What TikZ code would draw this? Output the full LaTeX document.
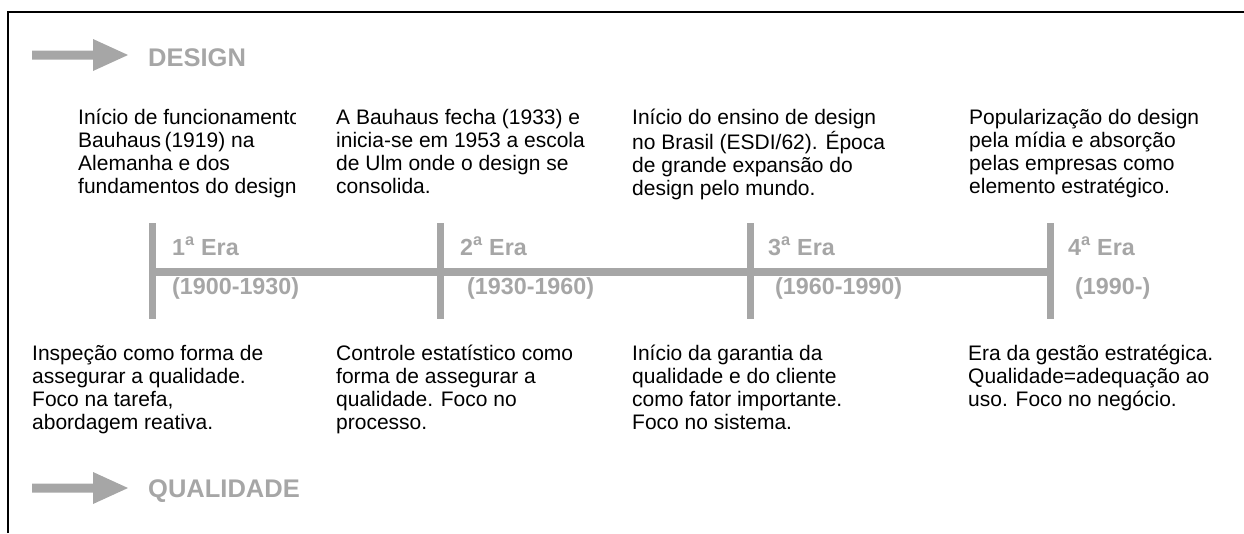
\documentclass[tikz,border=0pt]{standalone}
\usepackage{fontspec}
\setmainfont{Liberation Sans}
\definecolor{tlgray}{RGB}{166,166,166}
\newcommand{\txtlines}[1]{\begin{tabular}[t]{@{}l@{}}#1\end{tabular}}
\begin{document}
\begin{tikzpicture}[x=1pt,y=-1pt,
  body/.style={anchor=base west,inner sep=0pt,font=\fontsize{21}{23.3}\selectfont,text=black},
  heading/.style={anchor=base west,inner sep=0pt,font=\fontsize{25.5}{28}\selectfont\bfseries,text=tlgray},
  era/.style={anchor=base west,inner sep=0pt,font=\fontsize{23.3}{26}\selectfont\bfseries,text=tlgray},
  tick/.style={draw=tlgray,line width=7pt},
  axis/.style={draw=tlgray,line width=8pt},
  bigarrow/.style={fill=tlgray}]
\useasboundingbox (0,0) rectangle (1244,533);
\draw[line width=1.5pt,black] (8,533) -- (8,12) -- (1244,12);

% arrows
\fill[bigarrow] (32,50.5) -- (93,50.5) -- (93,39) -- (128,55) -- (93,71) -- (93,59.5) -- (32,59.5) -- cycle;
\fill[bigarrow] (32,483.5) -- (93,483.5) -- (93,472) -- (128,488) -- (93,504) -- (93,492.5) -- (32,492.5) -- cycle;
\node[heading] (hd) at (148,66) {DESIGN};
\node[heading] (hq) at (148,497) {QUALIDADE};

% timeline
\coordinate (e1t) at (152.5,223); \coordinate (e1b) at (152.5,319);
\coordinate (e2t) at (440.5,223); \coordinate (e2b) at (440.5,319);
\coordinate (e3t) at (750,223);   \coordinate (e3b) at (750,319);
\coordinate (e4t) at (1050.5,223);\coordinate (e4b) at (1050.5,319);
\coordinate (a1) at (152.5,271.5); \coordinate (a4) at (1050.5,271.5);
\draw[axis] (a1) -- (a4);
\draw[tick] (e1t) -- (e1b);
\draw[tick] (e2t) -- (e2b);
\draw[tick] (e3t) -- (e3b);
\draw[tick] (e4t) -- (e4b);

\node[era] (era1) at (172,255) {1\textsuperscript{a} Era};
\node[era] (per1) at (172,294) {(1900-1930)};
\node[era] (era2) at (460,255) {2\textsuperscript{a} Era};
\node[era] (per2) at (467,294) {(1930-1960)};
\node[era] (era3) at (768,255) {3\textsuperscript{a} Era};
\node[era] (per3) at (775,294) {(1960-1990)};
\node[era] (era4) at (1068,255) {4\textsuperscript{a} Era};
\node[era] (per4) at (1075,294) {(1990-)};

% design texts
\begin{scope}
\clip (60,95) rectangle (295,205);
\node[body] (t1) at (78,124) {\txtlines{Início de funcionamento\\Bauhaus\,(1919) na\\Alemanha e dos\\fundamentos do design}};
\end{scope}
\node[body] (t2) at (336,124) {\txtlines{A Bauhaus fecha (1933) e\\inicia-se em 1953 a escola\\de Ulm onde o design se\\consolida.}};
\node[body] (t3) at (632,124) {\txtlines{Início do ensino de design\\no Brasil (ESDI/62). Época\\de grande expansão do\\design pelo mundo.}};
\node[body] (t4) at (969,124) {\txtlines{Popularização do design\\pela mídia e absorção\\pelas empresas como\\elemento estratégico.}};

% quality texts
\node[body] (b1) at (32,360) {\txtlines{Inspeção como forma de\\assegurar a qualidade.\\Foco na tarefa,\\abordagem reativa.}};
\node[body] (b2) at (336,360) {\txtlines{Controle estatístico como\\forma de assegurar a\\qualidade. Foco no\\processo.}};
\node[body] (b3) at (632,360) {\txtlines{Início da garantia da\\qualidade e do cliente\\como fator importante.\\Foco no sistema.}};
\node[body] (b4) at (968,360) {\txtlines{Era da gestão estratégica.\\Qualidade=adequação ao\\uso. Foco no negócio.}};
\end{tikzpicture}
\end{document}
